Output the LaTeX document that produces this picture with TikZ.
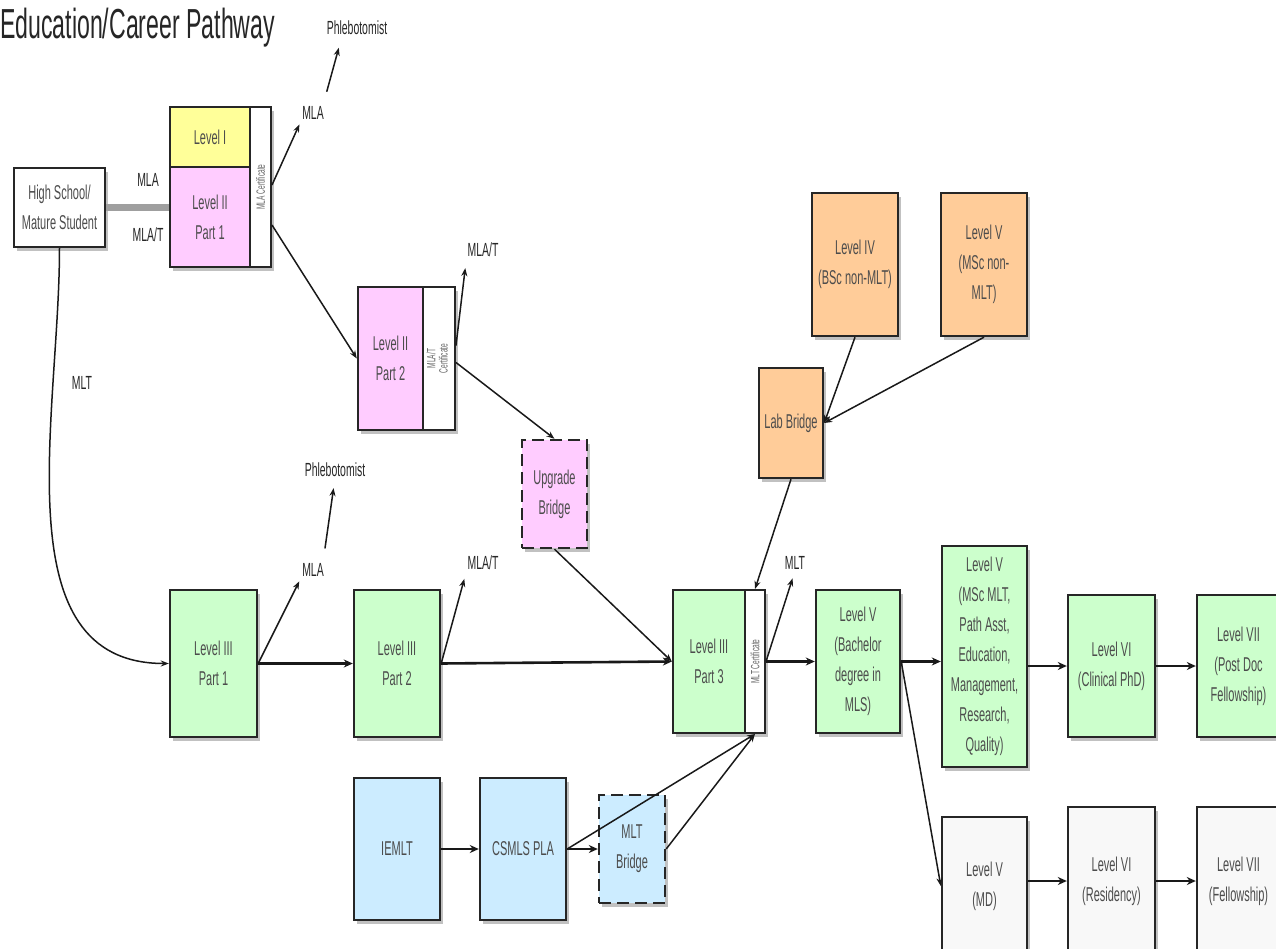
\documentclass[tikz,border=0pt]{standalone}
\usepackage{fontspec}
\usepackage{tikz}
\usetikzlibrary{shapes,arrows.meta,positioning,calc,shadows}
\newfontfamily\narrowfont{Liberation Sans}[FakeStretch=0.55]
\newcommand{\boxfont}{\narrowfont\fontsize{20}{30}\selectfont}
\newcommand{\titlefont}{\narrowfont\fontsize{42}{46}\selectfont}
\newcommand{\certfont}{\narrowfont\fontsize{12}{12}\selectfont}
\newcommand{\labelfont}{\narrowfont\fontsize{19}{22}\selectfont}
\definecolor{yellowbox}{HTML}{FFFF99}
\definecolor{pinkbox}{HTML}{FFCCFF}
\definecolor{greenbox}{HTML}{CCFFCC}
\definecolor{orangebox}{HTML}{FFCC99}
\definecolor{bluebox}{HTML}{CCECFF}
\definecolor{graybox}{HTML}{F8F8F8}

\begin{document}
\begin{tikzpicture}[
    x=1pt, y=-1pt,
    box/.style={draw=black!85, line width=2.4pt, font=\boxfont, text=black!70, align=center, inner sep=2pt,
        drop shadow={shadow xshift=3pt, shadow yshift=-4pt, fill=gray!60, opacity=0.8}},
    bridge/.style={box, dashed, dash pattern=on 12pt off 6pt},
    cert/.style={draw=black!85, line width=2pt, fill=white, font=\certfont, text=black!60, inner sep=0pt,
        drop shadow={shadow xshift=3pt, shadow yshift=-4pt, fill=gray!60, opacity=0.8}},
    tag/.style={font=\labelfont, text=black!85, inner sep=1pt},
    arrow/.style={-{Stealth[length=8pt, width=6pt]}, line width=1.5pt, black!90},
    flow/.style={-{Stealth[length=9pt, width=8pt]}, line width=2.6pt, black!90},
]
    \useasboundingbox (0,0) rectangle (1276,949);
    \clip (0,0) rectangle (1276,949);

    % Title
    \node[font=\titlefont, text=black!85, anchor=west, inner sep=0pt] (title) at (0,28) {Education/Career Pathway};

    % Entry
    \node[box, fill=white, minimum width=91pt, minimum height=79pt] (hs) at (59.5,207.5) {High School/\\Mature Student};

    % MLA / MLA/T track
    \node[box, fill=yellowbox, minimum width=80pt, minimum height=60pt] (lvI) at (210,137) {Level I};
    \node[box, fill=pinkbox, minimum width=80pt, minimum height=100pt] (lvIIa) at (210,217) {Level II\\Part 1};
    \node[cert, minimum width=21pt, minimum height=160pt] (certA) at (260.5,187) {\rotatebox{90}{MLA Certificate}};
    \node[box, fill=pinkbox, minimum width=65pt, minimum height=143pt] (lvIIb) at (390.5,358.5) {Level II\\Part 2};
    \node[cert, minimum width=32pt, minimum height=143pt] (certB) at (439,358.5) {\rotatebox{90}{\begin{tabular}{@{}c@{}}MLA/T\\Certificate\end{tabular}}};
    \node[bridge, fill=pinkbox, minimum width=65pt, minimum height=108pt] (upg) at (554.5,494) {Upgrade\\Bridge};

    % MLT track
    \node[box, fill=greenbox, minimum width=87pt, minimum height=147pt] (g1) at (213.5,663.5) {Level III\\Part 1};
    \node[box, fill=greenbox, minimum width=86pt, minimum height=147pt] (g2) at (397,663.5) {Level III\\Part 2};
    \node[box, fill=greenbox, minimum width=72pt, minimum height=143pt] (g3) at (709,661.5) {Level III\\Part 3};
    \node[cert, minimum width=20pt, minimum height=143pt] (certC) at (755,661.5) {\rotatebox{90}{MLT Certificate}};

    % Degrees
    \node[box, fill=greenbox, minimum width=84pt, minimum height=143pt] (bach) at (858,661.5) {Level V\\(Bachelor\\degree in\\MLS)};
    \node[box, fill=greenbox, minimum width=85pt, minimum height=221pt] (msc) at (984.5,656.5) {Level V\\(MSc MLT,\\Path Asst,\\Education,\\Management,\\Research,\\Quality)};
    \node[box, fill=greenbox, minimum width=87pt, minimum height=142pt] (phd) at (1111.5,666) {Level VI\\(Clinical PhD)};
    \node[box, fill=greenbox, minimum width=83pt, minimum height=142pt] (post) at (1238.5,666) {Level VII\\(Post Doc\\Fellowship)};

    % Medicine
    \node[box, fill=graybox, minimum width=85pt, minimum height=138pt] (md) at (984.5,886) {Level V\\(MD)};
    \node[box, fill=graybox, minimum width=87pt, minimum height=148pt] (res) at (1111.5,881) {Level VI\\(Residency)};
    \node[box, fill=graybox, minimum width=83pt, minimum height=148pt] (fel) at (1238.5,881) {Level VII\\(Fellowship)};

    % Non-MLT entry
    \node[box, fill=orangebox, minimum width=86pt, minimum height=143pt] (bsc) at (855,264.5) {Level IV\\(BSc non-MLT)};
    \node[box, fill=orangebox, minimum width=86pt, minimum height=143pt] (mscn) at (984,264.5) {Level V\\(MSc non-\\MLT)};
    \node[box, fill=orangebox, minimum width=64pt, minimum height=110pt] (lab) at (791,423) {Lab Bridge};

    % Internationally educated
    \node[box, fill=bluebox, minimum width=86pt, minimum height=142pt] (iemlt) at (397,849) {IEMLT};
    \node[box, fill=bluebox, minimum width=86pt, minimum height=142pt] (csmls) at (523,849) {CSMLS PLA};
    \node[bridge, fill=bluebox, minimum width=66pt, minimum height=108pt] (mltb) at (632,849) {MLT\\Bridge};

    % Labels
    \node[tag] (mlaL) at (148,180) {MLA};
    \node[tag] (mlatL) at (148,235) {MLA/T};
    \node[tag] (mltL) at (82,383) {MLT};
    \node[tag] (mla1) at (313,113) {MLA};
    \node[tag] (phleb1) at (357,28) {Phlebotomist};
    \node[tag] (mlat1) at (483,250) {MLA/T};
    \node[tag] (mla2) at (313,570) {MLA};
    \node[tag] (phleb2) at (335,470) {Phlebotomist};
    \node[tag] (mlat2) at (483,563) {MLA/T};
    \node[tag] (mlt2) at (795,563) {MLT};

    % Arrows
    \draw[line width=7pt, gray!75] (hs.east) -- (hs.east -| lvIIa.west);
    \draw[arrow] (hs.south) to[out=-90, in=180] (g1.west);
    \draw[arrow, shorten >=4pt] ($(certA.east)+(0,-2)$) -- (mla1.south west);
    \draw[arrow, shorten <=14pt, shorten >=12pt] ([xshift=10pt]mla1.north) -- ([xshift=-15pt]phleb1.south);
    \draw[arrow] ($(certA.east)+(0,38)$) -- (lvIIb.west);
    \draw[arrow, shorten >=10pt] ($(certB.east)+(0,-13)$) -- (mlat1.south west);
    \draw[arrow] ($(certB.east)+(0,4)$) -- (upg.north);
    \draw[arrow] (upg.south) -- (g3.west);
    \draw[arrow, shorten >=4pt] (g1.east) -- (mla2.south west);
    \draw[arrow, shorten <=14pt, shorten >=10pt] ([xshift=10pt]mla2.north) -- (phleb2.south);
    \draw[arrow, shorten >=8pt] (g2.east) -- (mlat2.south west);
    \draw[arrow, shorten >=8pt] (certC.east) -- (mlt2.south);
    \draw[arrow] (lab.south) -- (certC.north);
    \draw[arrow] (bsc.south) -- (lab.east);
    \draw[arrow] (mscn.south) -- (lab.east);
    \draw[flow] (g1.east) -- (g2.west);
    \draw[flow] (g2.east) -- (g3.west);
    \draw[flow] (certC.east) -- (bach.west);
    \draw[flow] (bach.east) -- (bach.east -| msc.west);
    \draw[flow] (msc.east |- phd.west) -- (phd.west);
    \draw[flow] (phd.east) -- (post.west);
    \draw[arrow] (bach.east) -- (md.west);
    \draw[flow] (md.east |- res.west) -- (res.west);
    \draw[flow] (res.east) -- (fel.west);
    \draw[flow] (iemlt.east) -- (csmls.west);
    \draw[flow] (csmls.east) -- (mltb.west);
    \draw[arrow] (csmls.east) -- (certC.south);
    \draw[arrow] (mltb.east) -- (certC.south);
\end{tikzpicture}
\end{document}
